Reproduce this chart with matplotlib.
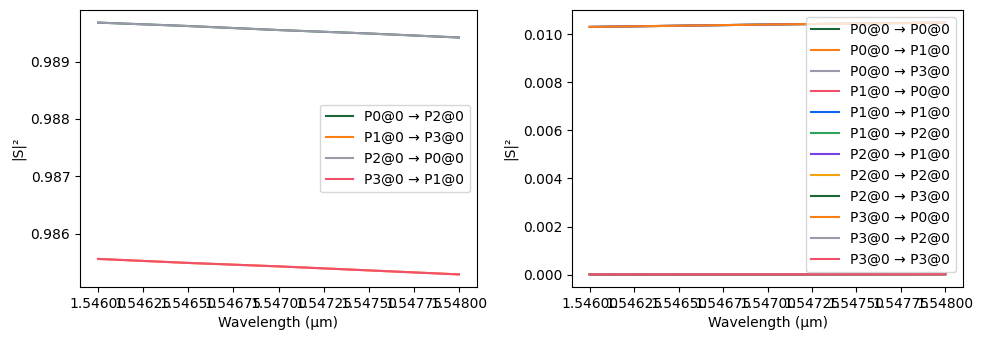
import matplotlib
matplotlib.use("Agg")
import matplotlib.pyplot as plt
import numpy as np

# wavelength sweep (um), sampled at a few points
wavelength = [1.5460, 1.5465, 1.5470, 1.5475, 1.5480]

# through-port transmission
thru_labels = ["P0@0 → P2@0", "P1@0 → P3@0", "P2@0 → P0@0", "P3@0 → P1@0"]
thru_values = [
    [0.98968, 0.98962, 0.98955, 0.98949, 0.98942],
    [0.98556, 0.98549, 0.98543, 0.98536, 0.98529],
    [0.98968, 0.98962, 0.98955, 0.98949, 0.98942],
    [0.98556, 0.98549, 0.98543, 0.98536, 0.98529],
]

# coupling, crosstalk and reflections
other_labels = ["P0@0 → P0@0", "P0@0 → P1@0", "P0@0 → P3@0", "P1@0 → P0@0",
                "P1@0 → P1@0", "P1@0 → P2@0", "P2@0 → P1@0", "P2@0 → P2@0",
                "P2@0 → P3@0", "P3@0 → P0@0", "P3@0 → P2@0", "P3@0 → P3@0"]
low = [0.00001, 0.000012, 0.000014, 0.000017, 0.00002]
cpl = [0.01030, 0.01035, 0.01040, 0.01044, 0.01048]
other_values = [low, low, cpl, low, low, cpl, cpl, low, low, cpl, low, low]

palette = ["#1b6636", "#fd7f13", "#9a9aab", "#f24f6c",
           "#0d66f2", "#2ba459", "#7a40e8", "#f5a30c"]

fig, (ax1, ax2) = plt.subplots(1, 2, figsize=(9.9, 3.4))
ax1.set_position([80 / 990, 53 / 340, 397 / 990, 277 / 340])
ax2.set_position([572 / 990, 53 / 340, 391 / 990, 277 / 340])

for i, (lab, vals) in enumerate(zip(thru_labels, thru_values)):
    ax1.plot(wavelength, vals, color=palette[i % 8], label=lab)
ax1.set_xlabel("Wavelength (µm)")
ax1.set_ylabel("|S|²")
ax1.set_xticks(np.arange(1.546, 1.54801, 0.00025))
ax1.legend(loc="center right")

for i, (lab, vals) in enumerate(zip(other_labels, other_values)):
    ax2.plot(wavelength, vals, color=palette[i % 8], label=lab)
ax2.set_xlabel("Wavelength (µm)")
ax2.set_ylabel("|S|²")
ax2.set_xticks(np.arange(1.546, 1.54801, 0.00025))
ax2.legend(loc="upper right")

fig.savefig("out.png", dpi=100)
